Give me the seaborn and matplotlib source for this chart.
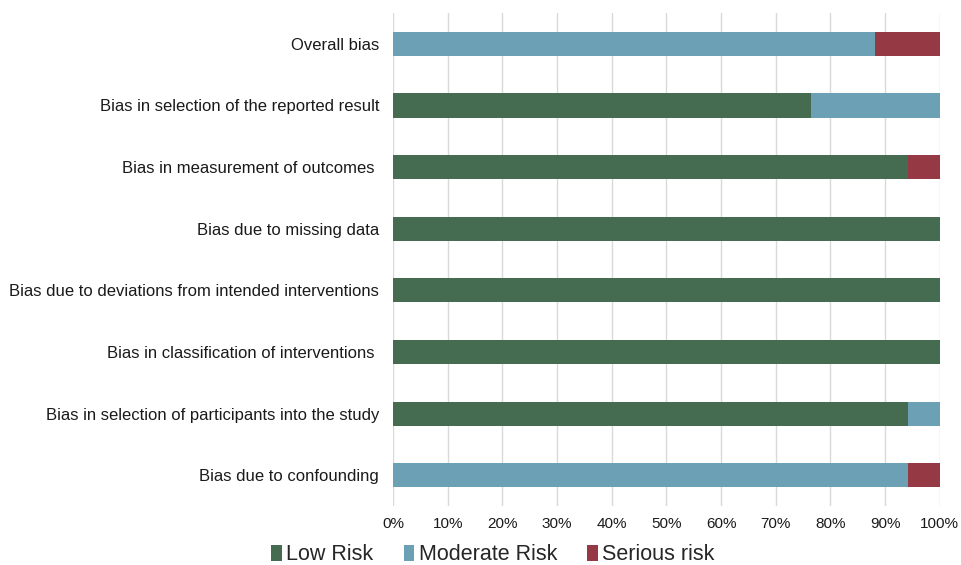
import numpy as np
import pandas as pd
import seaborn as sns
import matplotlib.pyplot as plt
from matplotlib.patches import Patch

# 各偏倚域（从上到下）
domains = ['Overall bias',
           'Bias in selection of the reported result',
           'Bias in measurement of outcomes ',
           'Bias due to missing data',
           'Bias due to deviations from intended interventions',
           'Bias in classification of interventions ',
           'Bias in selection of participants into the study',
           'Bias due to confounding']
# 百分比
low_risk = [0, 76.5, 94.1, 100, 100, 100, 94.1, 0]
moderate_risk = [88.2, 23.5, 0, 0, 0, 0, 5.9, 94.1]
serious_risk = [11.8, 0, 5.9, 0, 0, 0, 0, 5.9]

series_names = ['Low Risk', 'Moderate Risk', 'Serious risk']
colors = ['#456b50', '#6ba0b5', '#953a45']

df = pd.DataFrame({'domain': domains, 'low': low_risk,
                   'moderate': moderate_risk, 'serious': serious_risk})
df['c_low'] = df['low']
df['c_mod'] = df['low'] + df['moderate']
df['c_ser'] = df['c_mod'] + df['serious']

sns.set_style('white')
plt.rcParams['font.family'] = ['Liberation Sans', 'DejaVu Sans']

fig = plt.figure(figsize=(9.61, 5.65), dpi=100)
ax = fig.add_axes([0.409, 0.104, 0.569, 0.873])

# 累计值从大到小叠画，形成堆积条
for col, c in zip(['c_ser', 'c_mod', 'c_low'], colors[::-1]):
    sns.barplot(data=df, x=col, y='domain', order=domains, color=c,
                width=0.39, orient='h', ax=ax, saturation=1, linewidth=0)

ax.set_xlim(0, 100)
ax.set_xticks(np.arange(0, 101, 10))
ax.set_xticklabels([f'{v}%' for v in range(0, 101, 10)])
ax.set_xlabel('')
ax.set_ylabel('')
ax.set_axisbelow(True)
ax.grid(axis='x', color='#d9d9d9', linewidth=1)
ax.grid(axis='y', visible=False)
for s in ax.spines.values():
    s.set_visible(False)
ax.tick_params(axis='x', length=0, pad=8, labelsize=11, labelcolor='#1a1a1a')
ax.tick_params(axis='y', length=0, pad=10, labelsize=12, labelcolor='#1a1a1a')

handles = [Patch(facecolor=c, edgecolor='none') for c in colors]
fig.legend(handles, series_names, loc='lower center', bbox_to_anchor=(0.513, -0.035),
           ncol=3, frameon=False, fontsize=15.5, handlelength=0.5, handleheight=0.75,
           handletextpad=0.2, columnspacing=1.4)

fig.savefig('out.png', dpi=100)
